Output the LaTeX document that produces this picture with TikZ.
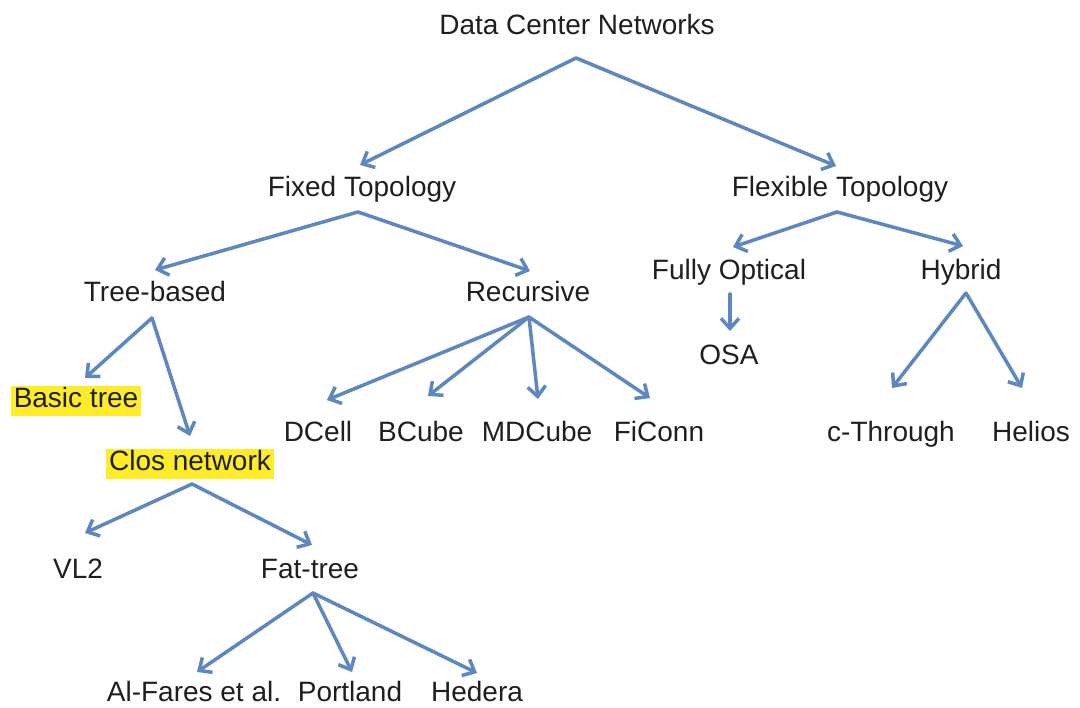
\documentclass[tikz,border=0pt]{standalone}
\usepackage{fontspec}
\setmainfont{Liberation Sans}
\usetikzlibrary{arrows.meta}
\definecolor{arrowblue}{RGB}{92,135,192}
\definecolor{hl}{RGB}{255,236,40}
\begin{document}
\begin{tikzpicture}[x=1pt,y=-1pt,
  lbl/.style={inner sep=0pt,text height=20pt,text depth=0pt,font=\fontsize{28}{34}\selectfont,text=black!88},
  hlbox/.style={lbl,fill=hl,inner xsep=3pt,text height=22pt,text depth=8pt,yshift=-1pt},
  conn/.style={draw=arrowblue,line width=3.5pt,line cap=round,line join=round,-{Straight Barb[length=10pt,width=18pt,line width=3.5pt]}}]
\useasboundingbox (0,0) rectangle (1080,708);
% labels
\node[lbl] (dcn) at (577,25) {Data Center Networks};
\node[lbl] (fixed) at (362,187) {Fixed Topology};
\node[lbl] (flex) at (840,187) {Flexible Topology};
\node[lbl] (tree) at (155,292) {Tree-based};
\node[lbl] (rec) at (528,292) {Recursive};
\node[lbl] (fo) at (729,270) {Fully Optical};
\node[lbl] (hyb) at (961,270) {Hybrid};
\node[lbl] (osa) at (729,355) {OSA};
\node[hlbox] (basic) at (76,400) {Basic tree};
\node[hlbox] (clos) at (190,463) {Clos network};
\node[lbl] (dcell) at (318,432) {DCell};
\node[lbl] (bcube) at (421,432) {BCube};
\node[lbl] (mdcube) at (537,432) {MDCube};
\node[lbl] (ficonn) at (659,432) {FiConn};
\node[lbl] (cthr) at (891,432) {c-Through};
\node[lbl] (helios) at (1031,432) {Helios};
\node[lbl] (vl2) at (78,569) {VL2};
\node[lbl] (fat) at (310,569) {Fat-tree};
\node[lbl] (alf) at (194,691) {Al-Fares et al.};
\node[lbl] (port) at (350,691) {Portland};
\node[lbl] (hed) at (477,691) {Hedera};
% branch points and arrow tips
\coordinate (dcnA) at (576,58);
\coordinate (fixedT) at (360,165);
\coordinate (flexT) at (836,166);
\coordinate (fixedA) at (358,212);
\coordinate (treeT) at (155,270);
\coordinate (recT) at (530,271);
\coordinate (flexA) at (837,212);
\coordinate (foT) at (733,247);
\coordinate (hybT) at (963,246);
\coordinate (foA) at (730,294);
\coordinate (osaT) at (730,331);
\coordinate (hybA) at (966,293);
\coordinate (cthrT) at (892,388);
\coordinate (heliosT) at (1022,388);
\coordinate (treeA) at (152,318);
\coordinate (basicT) at (85,378);
\coordinate (closT) at (190,436);
\coordinate (recA) at (529,317);
\coordinate (dcellT) at (327,400);
\coordinate (bcubeT) at (428,396);
\coordinate (mdcubeT) at (538,399);
\coordinate (ficonnT) at (650,398);
\coordinate (closA) at (192,484);
\coordinate (vl2T) at (85,533);
\coordinate (fatT) at (312,545);
\coordinate (fatA) at (313,593);
\coordinate (alfT) at (197,672);
\coordinate (portT) at (352,672);
\coordinate (hedT) at (477,673);
% connectors
\draw[conn] (dcnA) -- (fixedT);
\draw[conn] (dcnA) -- (flexT);
\draw[conn] (fixedA) -- (treeT);
\draw[conn] (fixedA) -- (recT);
\draw[conn] (flexA) -- (foT);
\draw[conn] (flexA) -- (hybT);
\draw[conn] (foA) -- (osaT);
\draw[conn] (hybA) -- (cthrT);
\draw[conn] (hybA) -- (heliosT);
\draw[conn] (treeA) -- (basicT);
\draw[conn] (treeA) -- (closT);
\draw[conn] (recA) -- (dcellT);
\draw[conn] (recA) -- (bcubeT);
\draw[conn] (recA) -- (mdcubeT);
\draw[conn] (recA) -- (ficonnT);
\draw[conn] (closA) -- (vl2T);
\draw[conn] (closA) -- (fatT);
\draw[conn] (fatA) -- (alfT);
\draw[conn] (fatA) -- (portT);
\draw[conn] (fatA) -- (hedT);
\end{tikzpicture}
\end{document}
